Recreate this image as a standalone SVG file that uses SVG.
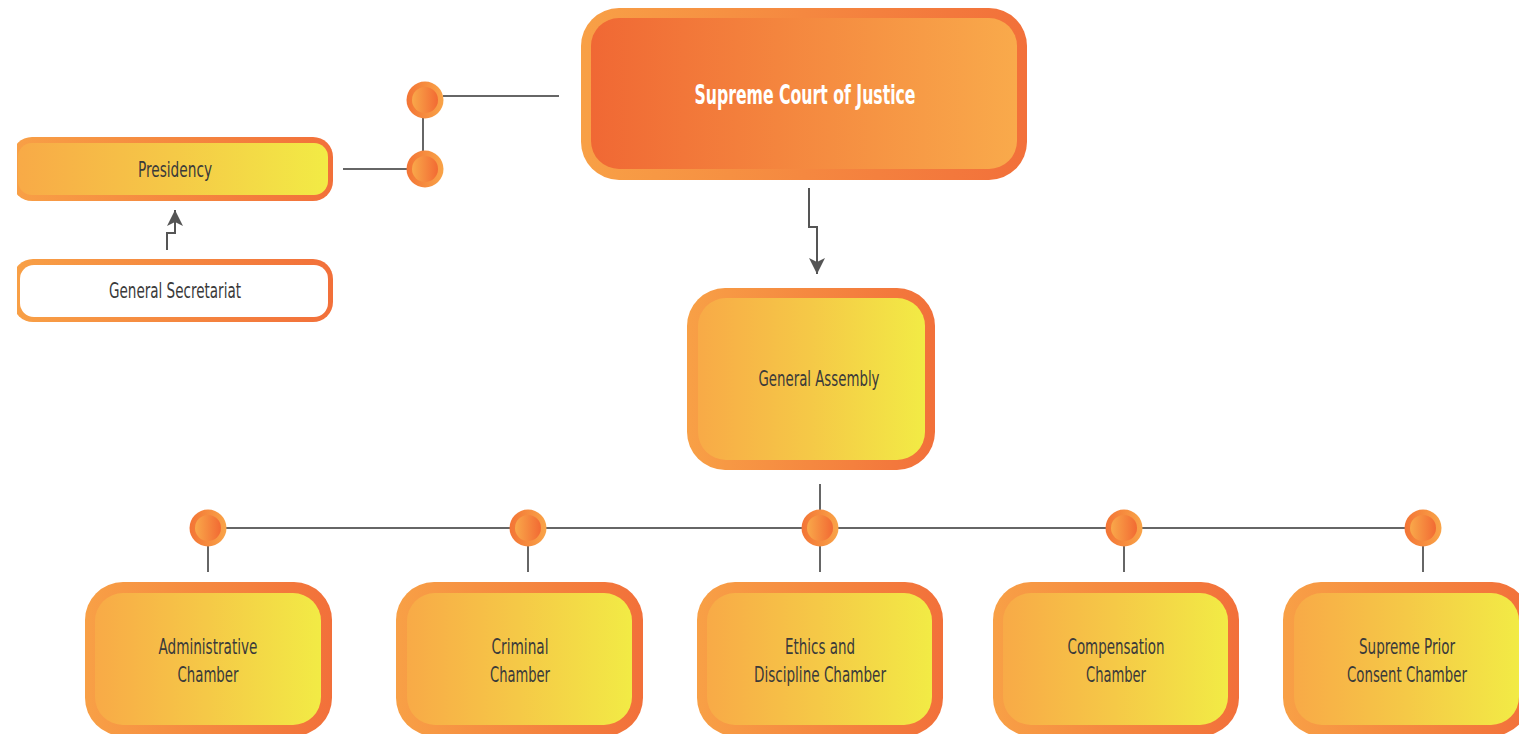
<svg xmlns="http://www.w3.org/2000/svg" width="1519" height="734" viewBox="0 0 1519 734">
  <defs>
    <linearGradient id="borderGrad" x1="0" y1="0" x2="1" y2="0">
      <stop offset="0" stop-color="#F8A046"/>
      <stop offset="1" stop-color="#F2703A"/>
    </linearGradient>
    <linearGradient id="yellowFill" x1="0" y1="0" x2="1" y2="0">
      <stop offset="0" stop-color="#F8AA47"/>
      <stop offset="0.5" stop-color="#F5C947"/>
      <stop offset="1" stop-color="#F2EB45"/>
    </linearGradient>
    <linearGradient id="courtFill" x1="0" y1="0" x2="1" y2="0">
      <stop offset="0" stop-color="#F06834"/>
      <stop offset="1" stop-color="#F9AA4B"/>
    </linearGradient>
    <linearGradient id="dotRing" x1="0" y1="0" x2="1" y2="0">
      <stop offset="0" stop-color="#F37435"/>
      <stop offset="1" stop-color="#F9A448"/>
    </linearGradient>
    <linearGradient id="dotCore" x1="0" y1="0" x2="1" y2="0">
      <stop offset="0" stop-color="#F9A84A"/>
      <stop offset="1" stop-color="#F26A33"/>
    </linearGradient>
    <clipPath id="leftCrop">
      <rect x="17" y="0" width="1502" height="734"/>
    </clipPath>
    <clipPath id="pageCrop">
      <rect x="0" y="0" width="1519" height="734"/>
    </clipPath>
    <marker id="arrow" viewBox="0 0 16 16" refX="16" refY="8" markerWidth="16" markerHeight="16" markerUnits="userSpaceOnUse" orient="auto">
      <path d="M0,0 L16,8 L0,16 L4,8 Z" fill="#555555"/>
    </marker>
    <g id="dot">
      <circle r="18.5" fill="url(#dotRing)"/>
      <circle r="13" fill="url(#dotCore)"/>
    </g>
  </defs>
  <style>
    .border { fill: url(#borderGrad); }
    .fill { fill: url(#yellowFill); }
    .line { fill: none; stroke: #666666; stroke-width: 2; }
    .arrowline { fill: none; stroke: #555555; stroke-width: 2; }
    .label { font-family: "Liberation Sans Narrow", "DejaVu Sans Condensed", "Roboto", sans-serif; font-stretch: condensed; font-size: 22px; fill: #3A3A3A; text-anchor: middle; }
    .title { font-family: "Liberation Sans Narrow", "DejaVu Sans Condensed", "Roboto", sans-serif; font-stretch: condensed; font-size: 27px; font-weight: bold; fill: #FFFFFF; text-anchor: middle; }
  </style>

  <rect width="1519" height="734" fill="#FFFFFF"/>

  <!-- connectors -->
  <g id="connectors">
    <path class="line" d="M443,96 H559"/>
    <path class="line" d="M423,118 V151"/>
    <path class="line" d="M343,169 H407"/>
    <path class="line" d="M208,528 H1423"/>
    <path class="line" d="M820,484 V510"/>
    <path class="line" d="M208,546 V572"/>
    <path class="line" d="M528,546 V572"/>
    <path class="line" d="M820,546 V572"/>
    <path class="line" d="M1124,546 V572"/>
    <path class="line" d="M1423,546 V572"/>
    <path class="arrowline" d="M809,188 V227 H817 V274" marker-end="url(#arrow)"/>
    <path class="arrowline" d="M167,250 V233 H175 V210" marker-end="url(#arrow)"/>
    <use href="#dot" x="425" y="100"/>
    <use href="#dot" x="425" y="169"/>
    <use href="#dot" x="208" y="528"/>
    <use href="#dot" x="528" y="528"/>
    <use href="#dot" x="820" y="528"/>
    <use href="#dot" x="1124" y="528"/>
    <use href="#dot" x="1423" y="528"/>
  </g>

  <!-- Supreme Court of Justice -->
  <g id="supreme-court">
    <rect x="581" y="8" width="446" height="172" rx="38" class="border"/>
    <rect x="591" y="18" width="426" height="151" rx="28" fill="url(#courtFill)"/>
    <text class="title" x="805" y="104" textLength="221" lengthAdjust="spacingAndGlyphs">Supreme Court of Justice</text>
  </g>

  <!-- Presidency -->
  <g id="presidency" clip-path="url(#leftCrop)">
    <rect x="12" y="137" width="321" height="64" rx="20" class="border"/>
    <rect x="18" y="143" width="310" height="52" rx="14" class="fill"/>
    <text class="label" x="175" y="177" textLength="74" lengthAdjust="spacingAndGlyphs">Presidency</text>
  </g>

  <!-- General Secretariat -->
  <g id="general-secretariat" clip-path="url(#leftCrop)">
    <rect x="13" y="259" width="320" height="63" rx="20" class="border"/>
    <rect x="20" y="265" width="308" height="52" rx="14" fill="#FFFFFF"/>
    <text class="label" x="175" y="298" textLength="132" lengthAdjust="spacingAndGlyphs">General Secretariat</text>
  </g>

  <!-- General Assembly -->
  <g id="general-assembly">
    <rect x="687" y="288" width="248" height="182" rx="38" class="border"/>
    <rect x="698" y="298" width="227" height="162" rx="28" class="fill"/>
    <text class="label" x="819" y="386" textLength="121" lengthAdjust="spacingAndGlyphs">General Assembly</text>
  </g>

  <!-- chambers -->
  <g id="administrative-chamber">
    <rect x="85" y="582" width="247" height="154" rx="38" class="border"/>
    <rect x="95" y="593" width="226" height="132" rx="28" class="fill"/>
    <text class="label" x="208" y="654" textLength="99" lengthAdjust="spacingAndGlyphs">Administrative</text>
    <text class="label" x="208" y="682" textLength="61" lengthAdjust="spacingAndGlyphs">Chamber</text>
  </g>

  <g id="criminal-chamber">
    <rect x="396" y="582" width="247" height="154" rx="38" class="border"/>
    <rect x="407" y="593" width="225" height="132" rx="28" class="fill"/>
    <text class="label" x="520" y="654" textLength="57" lengthAdjust="spacingAndGlyphs">Criminal</text>
    <text class="label" x="520" y="682" textLength="60" lengthAdjust="spacingAndGlyphs">Chamber</text>
  </g>

  <g id="ethics-chamber">
    <rect x="697" y="582" width="246" height="154" rx="38" class="border"/>
    <rect x="707" y="593" width="225" height="132" rx="28" class="fill"/>
    <text class="label" x="820" y="654" textLength="70" lengthAdjust="spacingAndGlyphs">Ethics and</text>
    <text class="label" x="820" y="682" textLength="132" lengthAdjust="spacingAndGlyphs">Discipline Chamber</text>
  </g>

  <g id="compensation-chamber">
    <rect x="993" y="582" width="246" height="154" rx="38" class="border"/>
    <rect x="1003" y="593" width="225" height="132" rx="28" class="fill"/>
    <text class="label" x="1116" y="654" textLength="97" lengthAdjust="spacingAndGlyphs">Compensation</text>
    <text class="label" x="1116" y="682" textLength="60" lengthAdjust="spacingAndGlyphs">Chamber</text>
  </g>

  <g id="prior-consent-chamber">
    <g clip-path="url(#pageCrop)">
      <rect x="1283" y="582" width="247" height="154" rx="38" class="border"/>
      <rect x="1294" y="593" width="225" height="132" rx="28" class="fill"/>
    </g>
    <text class="label" x="1407" y="654" textLength="96" lengthAdjust="spacingAndGlyphs">Supreme Prior</text>
    <text class="label" x="1407" y="682" textLength="120" lengthAdjust="spacingAndGlyphs">Consent Chamber</text>
  </g>
</svg>
